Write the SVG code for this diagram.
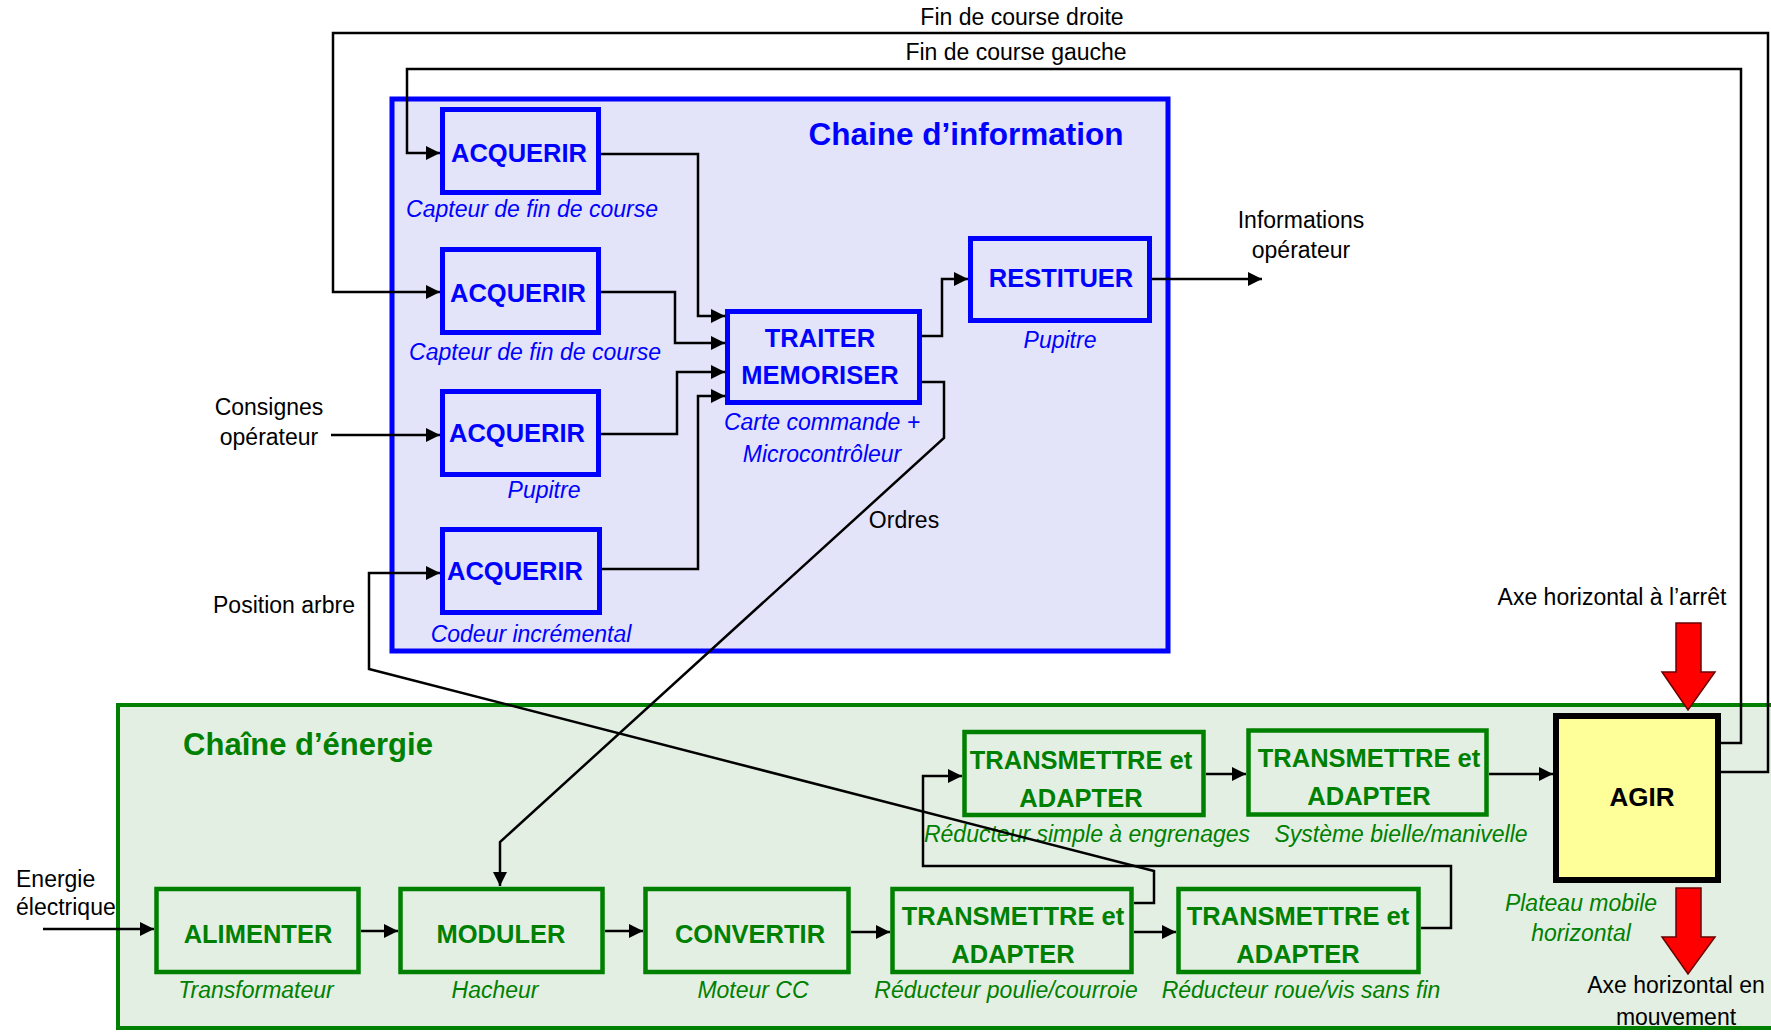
<svg xmlns="http://www.w3.org/2000/svg" width="1771" height="1032" viewBox="0 0 1771 1032">
<defs>
<marker id="arr" markerUnits="userSpaceOnUse" markerWidth="15" markerHeight="15" refX="14" refY="7" orient="auto">
<path d="M0,0 L14,7 L0,14 z" fill="#000"/>
</marker>
<style>
text{font-family:"Liberation Sans",Arial,sans-serif}
.lbl{font-size:23px;fill:#000}
.bt{font-size:25.5px;font-weight:bold;fill:#0000FF;text-anchor:middle}
.bc{font-size:23px;font-style:italic;fill:#0000FF;text-anchor:middle}
.gt{font-size:25.5px;font-weight:bold;fill:#008000;text-anchor:middle}
.gc{font-size:23px;font-style:italic;fill:#008000;text-anchor:middle}
.bbox{fill:#E3E3FA;stroke:#0000FF;stroke-width:5}
.gbox{fill:#E4EFE3;stroke:#008000;stroke-width:4.5}
.c{fill:none;stroke:#000;stroke-width:2.5}
.ca{fill:none;stroke:#000;stroke-width:2.5;marker-end:url(#arr)}
.mid{text-anchor:middle}
.red{fill:#FF0000;stroke:#6B0000;stroke-width:1.5}
</style>
</defs>
<rect width="1771" height="1032" fill="#fff"/>

<g id="chaine-energie">
<rect x="118" y="705" width="1660" height="323" fill="#E4EFE3" stroke="#008000" stroke-width="4"/>
<text x="308" y="755" style="font-size:31px;font-weight:bold;fill:#008000;text-anchor:middle">Chaîne d’énergie</text>
</g>

<g id="chaine-information">
<rect x="392" y="99" width="776" height="552" fill="#E3E3FA" stroke="#0000FF" stroke-width="5"/>
<text x="966" y="145" style="font-size:31.5px;font-weight:bold;fill:#0000FF;text-anchor:middle">Chaine d’information</text>
</g>

<g id="acquerir-1">
<rect class="bbox" x="442.5" y="109.5" width="156" height="83"/>
<text class="bt" x="519" y="162">ACQUERIR</text>
<text class="bc" x="532" y="217">Capteur de fin de course</text>
</g>
<g id="acquerir-2">
<rect class="bbox" x="442.5" y="249.5" width="156" height="83"/>
<text class="bt" x="518" y="302">ACQUERIR</text>
<text class="bc" x="535" y="360">Capteur de fin de course</text>
</g>
<g id="acquerir-3">
<rect class="bbox" x="442.5" y="391.5" width="156" height="83"/>
<text class="bt" x="517" y="442">ACQUERIR</text>
<text class="bc" x="544" y="498">Pupitre</text>
</g>
<g id="acquerir-4">
<rect class="bbox" x="442.5" y="529.5" width="157" height="83"/>
<text class="bt" x="515" y="580">ACQUERIR</text>
<text class="bc" x="531" y="642">Codeur incrémental</text>
</g>
<g id="traiter">
<rect class="bbox" x="727.5" y="311.5" width="192" height="91"/>
<text class="bt" x="820" y="347">TRAITER</text>
<text class="bt" x="820" y="384">MEMORISER</text>
<text class="bc" x="822" y="430">Carte commande +</text>
<text class="bc" x="822" y="462">Microcontrôleur</text>
</g>
<g id="restituer">
<rect class="bbox" x="970.5" y="238.5" width="179" height="82"/>
<text class="bt" x="1061" y="287">RESTITUER</text>
<text class="bc" x="1060" y="348">Pupitre</text>
</g>

<g id="alimenter">
<rect class="gbox" x="156.5" y="889" width="202" height="83"/>
<text class="gt" x="258" y="943">ALIMENTER</text>
<text class="gc" x="256" y="998">Transformateur</text>
</g>
<g id="moduler">
<rect class="gbox" x="400.5" y="889" width="202" height="83"/>
<text class="gt" x="501" y="943">MODULER</text>
<text class="gc" x="495" y="998">Hacheur</text>
</g>
<g id="convertir">
<rect class="gbox" x="645.5" y="889" width="203" height="83"/>
<text class="gt" x="750" y="943">CONVERTIR</text>
<text class="gc" x="753" y="998">Moteur CC</text>
</g>
<g id="transmettre-poulie">
<rect class="gbox" x="892.5" y="889" width="239" height="83"/>
<text class="gt" x="1013" y="925">TRANSMETTRE et</text>
<text class="gt" x="1013" y="963">ADAPTER</text>
<text class="gc" x="1006" y="998">Réducteur poulie/courroie</text>
</g>
<g id="transmettre-roue-vis">
<rect class="gbox" x="1178.5" y="889" width="240" height="83"/>
<text class="gt" x="1298" y="925">TRANSMETTRE et</text>
<text class="gt" x="1298" y="963">ADAPTER</text>
<text class="gc" x="1301" y="998">Réducteur roue/vis sans fin</text>
</g>
<g id="transmettre-engrenages">
<rect class="gbox" x="964.5" y="732" width="239" height="83"/>
<text class="gt" x="1081" y="769">TRANSMETTRE et</text>
<text class="gt" x="1081" y="807">ADAPTER</text>
<text class="gc" x="1087" y="842">Réducteur simple à engrenages</text>
</g>
<g id="transmettre-bielle">
<rect class="gbox" x="1248.5" y="730.5" width="238" height="84"/>
<text class="gt" x="1369" y="767">TRANSMETTRE et</text>
<text class="gt" x="1369" y="805">ADAPTER</text>
<text class="gc" x="1401" y="842">Système bielle/manivelle</text>
</g>
<g id="agir">
<rect x="1556" y="716" width="162" height="164" fill="#FFFF99" stroke="#000" stroke-width="6"/>
<text x="1642" y="806" style="font-size:26px;font-weight:bold;fill:#000;text-anchor:middle">AGIR</text>
<text class="gc" x="1581" y="911">Plateau mobile</text>
<text class="gc" x="1581" y="941">horizontal</text>
</g>

<g id="connecteurs">
<path class="ca" d="M1721,772 H1768 V33 H333 V292 H440"/>
<path class="ca" d="M1721,743 H1741 V69 H407 V153 H440"/>
<path class="ca" d="M601,154 H698 V316 H725"/>
<path class="ca" d="M601,292 H675 V343 H725"/>
<path class="ca" d="M601,434 H677 V372 H725"/>
<path class="ca" d="M602,569 H698 V396 H725"/>
<path class="ca" d="M922,336 H942 V279 H968"/>
<path class="ca" d="M1152,279 H1262"/>
<path class="ca" d="M922,382 H944 V438 L500,842 V886"/>
<path class="ca" d="M331,435 H440"/>
<path class="ca" d="M1134,903 H1154 V871 L369,669 V573 H440"/>
<path class="ca" d="M43,929 H154"/>
<path class="ca" d="M361,931 H398"/>
<path class="ca" d="M605,931 H643"/>
<path class="ca" d="M851,932 H890"/>
<path class="ca" d="M1134,932 H1176"/>
<path class="ca" d="M1421,928 H1451 V866 H923 V776 H962"/>
<path class="ca" d="M1206,774 H1246"/>
<path class="ca" d="M1489,774 H1553"/>
<polygon class="red" points="1676,623 1701,623 1701,672 1715,672 1688,710 1662,672 1676,672"/>
<polygon class="red" points="1676,888 1701,888 1701,937 1715,937 1688,974 1662,937 1676,937"/>
</g>

<g id="etiquettes">
<text class="lbl mid" x="1022" y="25">Fin de course droite</text>
<text class="lbl mid" x="1016" y="60">Fin de course gauche</text>
<text class="lbl mid" x="269" y="415">Consignes</text>
<text class="lbl mid" x="269" y="445">opérateur</text>
<text class="lbl mid" x="284" y="613">Position arbre</text>
<text class="lbl mid" x="904" y="528">Ordres</text>
<text class="lbl mid" x="1301" y="228">Informations</text>
<text class="lbl mid" x="1301" y="258">opérateur</text>
<text class="lbl" x="16" y="887">Energie</text>
<text class="lbl" x="16" y="915">électrique</text>
<text class="lbl mid" x="1612" y="605">Axe horizontal à l’arrêt</text>
<text class="lbl mid" x="1676" y="993">Axe horizontal en</text>
<text class="lbl mid" x="1676" y="1025">mouvement</text>
</g>
</svg>
